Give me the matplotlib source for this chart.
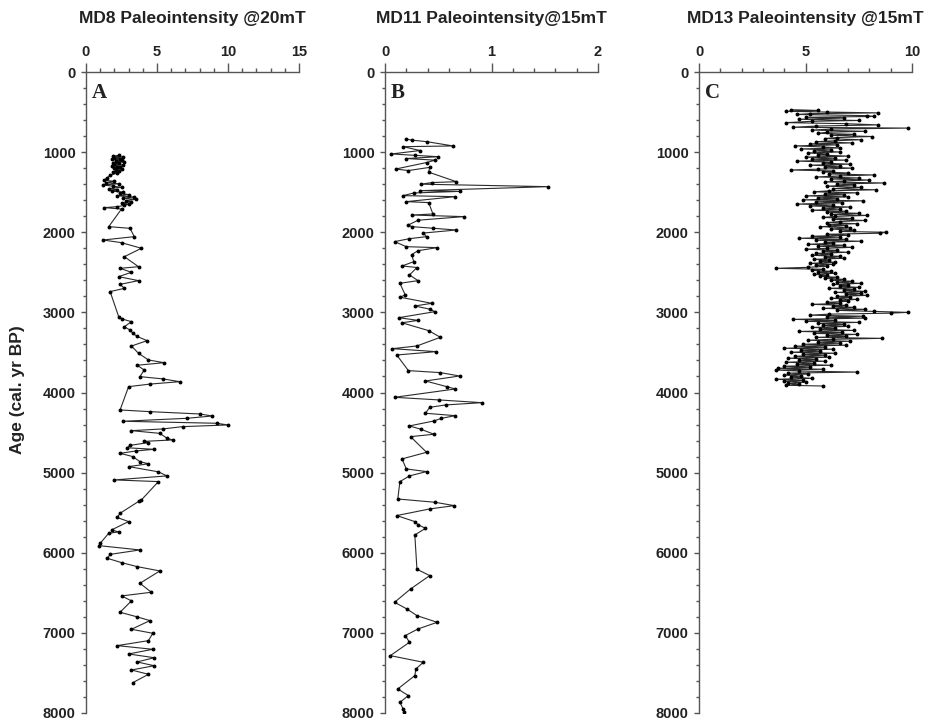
import matplotlib

matplotlib.use("Agg")

import matplotlib.pyplot as plt
from matplotlib.ticker import MultipleLocator

plt.rcParams["font.family"] = ["Liberation Sans", "DejaVu Sans"]

# MD8 core (panel A), paleointensity @20mT
md8_age = [
    1040, 1050, 1060, 1070, 1080, 1090, 1100, 1110, 1120, 1130, 1140, 1150,
    1160, 1170, 1180, 1190, 1200, 1210, 1220, 1230, 1245, 1260, 1290, 1320,
    1350, 1365, 1380, 1395, 1410, 1425, 1440, 1455, 1470, 1485, 1500, 1515,
    1530, 1545, 1560, 1575, 1590, 1605, 1620, 1635, 1650, 1665, 1680, 1693,
    1710, 1930, 1951, 2055, 2097, 2130, 2200, 2305, 2430, 2450, 2500, 2554,
    2604, 2650, 2700, 2741, 3053, 3080, 3116, 3180, 3220, 3261, 3300, 3353,
    3420, 3511, 3594, 3628, 3660, 3719, 3802, 3830, 3865, 3895, 3927, 4218,
    4239, 4268, 4293, 4322, 4359, 4384, 4405, 4426, 4455, 4476, 4510, 4571,
    4592, 4610, 4625, 4660, 4690, 4709, 4730, 4759, 4800, 4863, 4890, 4925,
    4990, 5041, 5091, 5112, 5341, 5360, 5507, 5560, 5611, 5715, 5740, 5757,
    5882, 5911, 5965, 6020, 6069, 6123, 6173, 6227, 6381, 6493, 6539, 6600,
    6743, 6800, 6847, 6955, 7005, 7097, 7159, 7205, 7263, 7310, 7363, 7410,
    7463, 7517, 7621,
]
md8_int = [
    2.3, 1.9, 2.6, 2.0, 2.4, 1.8, 2.5, 2.1, 2.7, 1.9, 2.3, 2.0,
    2.6, 1.8, 2.2, 2.4, 2.0, 2.5, 2.1, 2.3, 1.9, 2.2, 1.7, 1.5,
    1.3, 2.0, 1.4, 2.3, 1.2, 1.9, 2.5, 1.6, 2.2, 1.8, 2.6, 2.4,
    3.0, 2.2, 3.4, 2.6, 3.5, 2.8, 3.2, 2.5, 3.0, 2.7, 2.2, 1.3,
    2.5, 1.6, 3.1, 3.4, 1.2, 2.5, 3.9, 2.7, 3.7, 2.4, 3.2, 2.3,
    3.7, 2.4, 2.7, 1.7, 2.3, 2.5, 3.2, 2.7, 3.1, 3.3, 3.6, 4.3,
    3.2, 3.7, 4.4, 5.5, 3.6, 4.1, 3.8, 5.4, 6.6, 4.5, 3.0, 2.4,
    4.5, 8.0, 8.9, 7.1, 2.6, 9.2, 10.0, 6.8, 5.4, 3.2, 5.2, 5.7,
    6.1, 4.1, 4.4, 3.1, 2.9, 4.8, 3.5, 2.4, 3.3, 3.8, 4.4, 3.0,
    5.1, 5.7, 2.0, 5.1, 3.9, 3.7, 2.4, 2.2, 3.0, 1.8, 2.3, 1.6,
    1.0, 0.9, 3.8, 1.7, 1.5, 2.5, 3.6, 5.2, 3.8, 4.6, 2.5, 3.2,
    2.4, 3.6, 4.5, 3.2, 4.7, 4.4, 2.2, 4.7, 3.0, 4.8, 3.6, 4.8,
    3.2, 4.4, 3.3,
]

# MD11 core (panel B), paleointensity @15mT
md11_age = [
    836, 850, 869, 923, 932, 980, 1023, 1040, 1057, 1080, 1100, 1130,
    1211, 1230, 1190, 1250, 1369, 1380, 1400, 1431, 1481, 1490, 1510, 1543,
    1556, 1618, 1630, 1772, 1785, 1805, 1850, 1909, 1930, 1950, 1972, 2010,
    2055, 2080, 2117, 2180, 2192, 2230, 2280, 2367, 2421, 2440, 2533, 2604,
    2637, 2783, 2810, 2887, 2920, 2960, 2991, 3066, 3100, 3130, 3228, 3311,
    3419, 3453, 3490, 3532, 3727, 3752, 3794, 3856, 3927, 3956, 4060, 4093,
    4127, 4155, 4185, 4259, 4289, 4322, 4355, 4417, 4460, 4521, 4551, 4746,
    4829, 4954, 4987, 5041, 5112, 5329, 5370, 5412, 5453, 5536, 5611, 5650,
    5695, 5778, 6206, 6285, 6452, 6618, 6705, 6785, 6868, 6951, 7034, 7117,
    7284, 7367, 7450, 7533, 7700, 7783, 7866, 7949, 7983,
]
md11_int = [
    0.20, 0.25, 0.39, 0.64, 0.17, 0.33, 0.06, 0.28, 0.50, 0.20, 0.47, 0.39,
    0.10, 0.22, 0.42, 0.41, 0.67, 0.44, 0.34, 1.53, 0.33, 0.70, 0.27, 0.17,
    0.66, 0.20, 0.41, 0.45, 0.25, 0.74, 0.31, 0.22, 0.25, 0.45, 0.67, 0.36,
    0.39, 0.23, 0.09, 0.20, 0.49, 0.31, 0.25, 0.27, 0.16, 0.30, 0.23, 0.31,
    0.14, 0.19, 0.14, 0.44, 0.28, 0.42, 0.47, 0.13, 0.31, 0.16, 0.41, 0.52,
    0.30, 0.07, 0.48, 0.11, 0.22, 0.52, 0.70, 0.38, 0.58, 0.66, 0.09, 0.51,
    0.91, 0.57, 0.42, 0.38, 0.66, 0.53, 0.46, 0.23, 0.34, 0.46, 0.24, 0.39,
    0.16, 0.20, 0.39, 0.23, 0.14, 0.12, 0.47, 0.65, 0.42, 0.11, 0.28, 0.31,
    0.38, 0.28, 0.30, 0.42, 0.24, 0.09, 0.21, 0.30, 0.49, 0.31, 0.19, 0.23,
    0.05, 0.36, 0.29, 0.28, 0.12, 0.22, 0.14, 0.17, 0.18,
]

# MD13 core (panel C), paleointensity @15mT
md13_age = [
    470, 480, 490, 500, 510, 520, 530, 545, 555, 565, 575, 590,
    605, 615, 632, 645, 660, 675, 690, 700, 712, 725, 740, 752,
    765, 778, 790, 805, 818, 830, 845, 858, 870, 885, 897, 910,
    922, 935, 948, 960, 972, 985, 998, 1010, 1022, 1036, 1050, 1062,
    1075, 1088, 1100, 1112, 1125, 1138, 1150, 1163, 1175, 1188, 1200, 1212,
    1223, 1235, 1248, 1260, 1272, 1285, 1297, 1310, 1322, 1335, 1348, 1360,
    1372, 1385, 1398, 1410, 1425, 1440, 1455, 1470, 1483, 1495, 1508, 1520,
    1533, 1546, 1558, 1570, 1583, 1596, 1608, 1620, 1633, 1648, 1660, 1672,
    1685, 1698, 1712, 1725, 1738, 1750, 1764, 1777, 1790, 1802, 1815, 1828,
    1840, 1853, 1866, 1880, 1893, 1906, 1918, 1930, 1945, 1960, 1975, 1990,
    2000, 2012, 2025, 2038, 2050, 2062, 2075, 2088, 2100, 2112, 2125, 2138,
    2150, 2162, 2175, 2188, 2200, 2212, 2225, 2238, 2250, 2263, 2275, 2288,
    2300, 2312, 2325, 2338, 2350, 2362, 2375, 2388, 2400, 2412, 2425, 2438,
    2450, 2462, 2475, 2488, 2500, 2512, 2525, 2538, 2550, 2562, 2575, 2588,
    2600, 2612, 2625, 2638, 2650, 2662, 2675, 2688, 2700, 2712, 2725, 2738,
    2750, 2762, 2775, 2788, 2800, 2812, 2825, 2838, 2850, 2862, 2875, 2888,
    2900, 2912, 2925, 2938, 2950, 2962, 2975, 2988, 3000, 3010, 3022, 3035,
    3048, 3060, 3072, 3087, 3100, 3112, 3125, 3138, 3150, 3162, 3175, 3188,
    3200, 3212, 3225, 3238, 3250, 3262, 3275, 3288, 3300, 3312, 3324, 3336,
    3348, 3360, 3372, 3385, 3398, 3410, 3422, 3435, 3448, 3460, 3472, 3485,
    3498, 3510, 3522, 3535, 3548, 3560, 3572, 3585, 3598, 3610, 3622, 3635,
    3648, 3660, 3672, 3685, 3698, 3710, 3720, 3732, 3745, 3758, 3770, 3782,
    3795, 3808, 3823, 3835, 3848, 3860, 3872, 3885, 3898, 3910, 3919,
]
md13_int = [
    4.3, 5.6, 4.1, 6.0, 8.4, 5.2, 4.6, 7.9, 8.2, 5.0, 6.8, 4.7,
    7.5, 5.3, 4.1, 6.9, 8.4, 5.5, 4.4, 9.8, 6.2, 5.3, 7.8, 6.0,
    5.6, 7.3, 6.2, 8.1, 6.5, 5.9, 7.6, 6.4, 5.5, 7.2, 5.2, 6.5,
    4.5, 5.8, 6.6, 4.8, 6.2, 5.4, 6.6, 5.1, 6.0, 5.6, 7.0, 5.0,
    6.4, 5.3, 6.9, 4.6, 6.2, 5.8, 7.1, 5.2, 6.6, 5.9, 7.2, 5.6,
    4.3, 6.3, 5.8, 7.0, 6.1, 8.2, 6.6, 5.5, 7.5, 6.2, 8.0, 6.8,
    5.9, 8.7, 6.5, 7.3, 6.0, 7.6, 6.3, 8.3, 6.1, 5.4, 7.4, 5.9,
    6.8, 5.0, 7.0, 5.6, 6.5, 4.9, 7.7, 5.5, 6.7, 4.6, 6.3, 5.2,
    7.1, 5.8, 6.6, 5.3, 6.9, 6.0, 7.5, 6.2, 7.9, 6.4, 5.8, 7.2,
    6.3, 7.8, 6.6, 6.0, 7.4, 6.1, 6.9, 5.7, 7.1, 6.2, 7.3, 6.6,
    8.8, 8.5, 6.0, 7.0, 5.3, 6.6, 4.7, 6.9, 5.5, 7.6, 5.9, 6.3,
    5.1, 6.8, 5.6, 7.2, 6.0, 5.0, 6.5, 5.8, 7.0, 5.5, 6.2, 5.3,
    6.6, 5.9, 6.8, 5.4, 6.1, 5.7, 6.4, 5.2, 6.3, 5.5, 6.0, 5.1,
    3.6, 5.8, 5.3, 6.2, 5.6, 6.4, 5.4, 6.0, 5.7, 6.5, 5.9, 6.8,
    6.2, 7.2, 6.5, 7.6, 6.3, 7.0, 6.6, 7.5, 6.1, 7.3, 6.8, 7.8,
    6.4, 7.6, 6.9, 7.9, 6.5, 7.1, 6.2, 7.4, 6.6, 7.0, 6.0, 6.6,
    5.3, 6.9, 6.3, 7.3, 5.8, 7.8, 6.5, 8.2, 9.8, 9.0, 6.1, 5.2,
    7.7, 6.0, 7.8, 4.4, 6.4, 5.0, 7.5, 5.6, 6.8, 5.8, 7.0, 5.3,
    6.4, 5.7, 7.3, 4.7, 6.7, 5.4, 7.4, 6.0, 6.9, 5.5, 8.6, 6.3,
    5.1, 7.1, 5.6, 6.6, 4.9, 6.9, 4.5, 5.9, 4.0, 6.3, 4.8, 5.7,
    4.3, 6.4, 4.9, 5.9, 4.5, 6.1, 4.2, 5.5, 4.7, 5.9, 4.1, 5.4,
    4.6, 6.2, 4.0, 5.2, 3.7, 5.8, 3.6, 4.7, 7.4, 4.2, 5.1, 4.0,
    4.8, 4.3, 5.3, 3.6, 4.9, 4.0, 5.0, 4.2, 4.7, 4.1, 5.8,
]

titles = [
    "MD8 Paleointensity @20mT",
    "MD11 Paleointensity@15mT",
    "MD13 Paleointensity @15mT",
]
letters = ["A", "B", "C"]
x_limits = [15, 2, 10]
x_major = [5, 1, 5]
x_minor = [1, 0.2, 1]

W, H = 935, 727
fig = plt.figure(figsize=(W / 100, H / 100), dpi=100)

panel_left = [86, 385, 699]
panel_width = 213
top_px, bottom_px = 72, 713

series = [(md8_int, md8_age), (md11_int, md11_age), (md13_int, md13_age)]

for i, (vals, ages) in enumerate(series):
    ax = fig.add_axes([
        panel_left[i] / W,
        1 - bottom_px / H,
        panel_width / W,
        (bottom_px - top_px) / H,
    ])
    ax.plot(vals, ages, color="#2b2b2b", linewidth=0.8, marker="o",
            markersize=1.8, markerfacecolor="black", markeredgecolor="black")

    ax.set_xlim(0, x_limits[i])
    ax.set_ylim(8000, 0)
    ax.xaxis.set_major_locator(MultipleLocator(x_major[i]))
    ax.xaxis.set_minor_locator(MultipleLocator(x_minor[i]))
    ax.yaxis.set_major_locator(MultipleLocator(1000))
    ax.yaxis.set_minor_locator(MultipleLocator(200))
    ax.xaxis.tick_top()

    for side in ["right", "bottom"]:
        ax.spines[side].set_visible(False)
    for side in ["left", "top"]:
        ax.spines[side].set_color("#555555")
        ax.spines[side].set_linewidth(1.0)

    ax.tick_params(axis="x", which="major", direction="out", length=6.5,
                   width=1, color="#555555", pad=3)
    ax.tick_params(axis="x", which="minor", direction="out", length=3.2,
                   width=1, color="#555555")
    ax.tick_params(axis="y", which="major", direction="out", length=3.5,
                   width=1, color="#555555", pad=4)
    ax.tick_params(axis="y", which="minor", direction="out", length=2.2,
                   width=1, color="#555555")
    for label in ax.get_xticklabels() + ax.get_yticklabels():
        label.set_fontweight("bold")
        label.set_fontsize(10.5)
        label.set_color("#222222")

    ax.text(0.028, 0.983, letters[i], transform=ax.transAxes, ha="left",
            va="top", fontsize=15, fontweight="bold",
            family=["Liberation Serif", "DejaVu Serif"], color="#222222")

    fig.text((panel_left[i] + panel_width / 2) / W, 1 - 18 / H, titles[i],
             ha="center", va="center", fontsize=12.5, fontweight="bold",
             color="#222222")

fig.text(18 / W, 1 - 390 / H, "Age (cal. yr BP)", rotation=90, ha="center",
         va="center", fontsize=12.5, fontweight="bold", color="#222222")

fig.savefig("out.png", dpi=100)
